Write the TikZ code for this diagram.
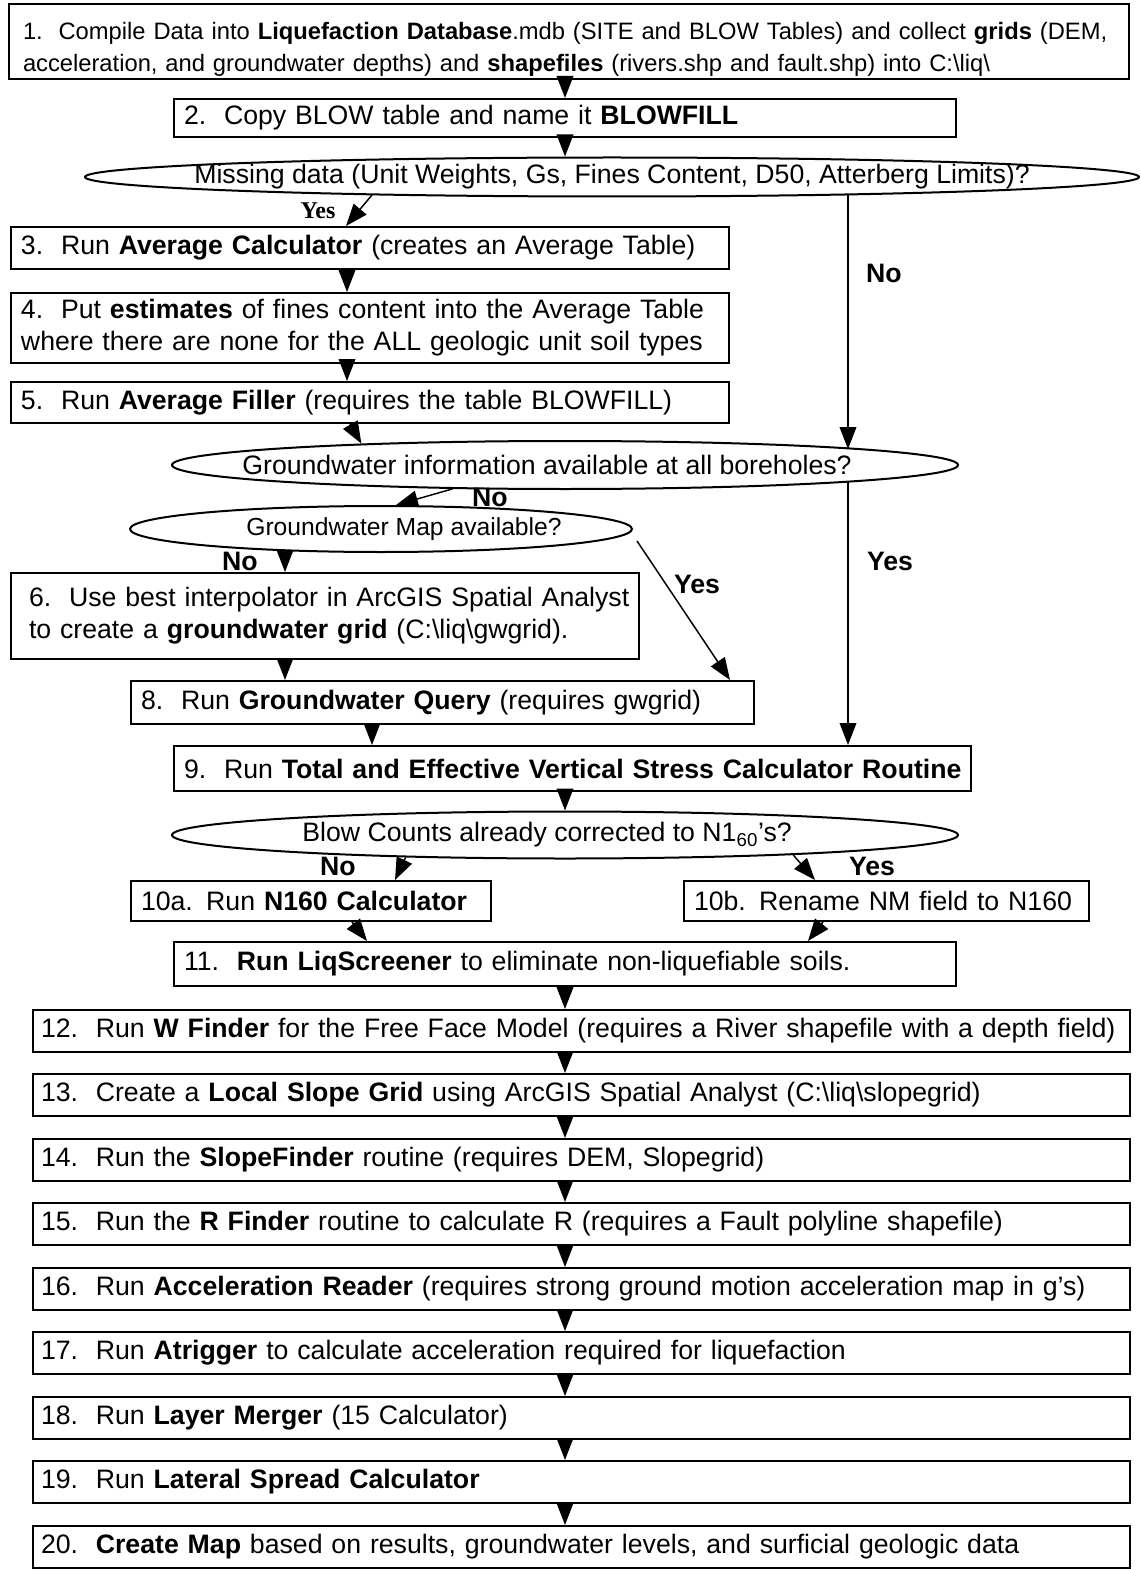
\documentclass[tikz,border=0pt]{standalone}
\usepackage{fontspec}
\setmainfont{Liberation Sans}
\newfontfamily\yesfont{Liberation Serif}
\usetikzlibrary{arrows.meta,shapes.geometric}
\newcommand\mainsize{\fontsize{20pt}{24pt}\selectfont}
\newcommand\oneline[1]{\mbox{#1}}
\begin{document}
\begin{tikzpicture}[x=0.75pt,y=-0.75pt,
  box/.style={draw, line width=1.5pt, anchor=north west, inner ysep=0pt, inner xsep=7.5pt, align=left, font=\mainsize},
  wide/.style={box, minimum width=822.75pt, minimum height=31.5pt, text width=810.75pt, inner xsep=6pt},
  ell/.style={draw, ellipse, line width=1.5pt, inner sep=0pt, font=\mainsize},
  arr/.style={line width=1.1pt, -{Triangle[length=16.5pt,width=12.5pt]}},
  lbl/.style={font=\mainsize\bfseries, inner sep=0pt}]
\fill[white] (0,0) rectangle (1140,1569);
\useasboundingbox (0,0) rectangle (1140,1569);
% x positions of connectors
\coordinate (xm) at (565,0);
\coordinate (xr) at (848,0);
\coordinate (xl) at (347,0);
\coordinate (xg) at (285,0);
\coordinate (xq) at (372,0);
\coordinate (xy1) at (346,0);
\coordinate (x5) at (350,0);
\coordinate (xy3) at (730,0);
\coordinate (xa) at (395,0);
\coordinate (xb) at (815,0);
\coordinate (xc) at (352,0);
\coordinate (xd) at (367,0);
\coordinate (xe) at (823,0);
\coordinate (xf) at (808,0);
% boxes
\node[box, minimum width=840pt, minimum height=56.25pt, text width=819pt, inner xsep=10.5pt, font=\fontsize{17.8pt}{24pt}\selectfont] (b1) at (8,3)
 {\oneline{\rule{0pt}{25pt}1.~~Compile Data into \textbf{Liquefaction Database}.mdb (SITE and BLOW Tables) and collect \textbf{grids} (DEM,}\\
 \oneline{acceleration, and groundwater depths) and \textbf{shapefiles} (rivers.shp and fault.shp) into C:\textbackslash{}liq\textbackslash{}}};
\node[box, minimum width=586.5pt, minimum height=28.5pt, text width=571.5pt] (b2) at (173,98)
 {\oneline{2.~~Copy BLOW table and name it \textbf{BLOWFILL}}};
\node[ell, minimum width=790.5pt, minimum height=29.25pt] (e1) at (612,177)
 {\makebox[0pt]{Missing data (Unit Weights, Gs, Fines Content, D50, Atterberg Limits)?}};
\node[box, minimum width=538.5pt, minimum height=31.5pt, text width=523.5pt] (b3) at (10,226)
 {\oneline{3.~~Run \textbf{Average Calculator} (creates an Average Table)}};
\node[box, minimum width=538.5pt, minimum height=52.5pt, text width=523.5pt] (b4) at (10,292)
 {\oneline{4.~~Put \textbf{estimates} of fines content into the Average Table}\\\oneline{where there are none for the ALL geologic unit soil types}};
\node[box, minimum width=538.5pt, minimum height=30.75pt, text width=523.5pt] (b5) at (10,381)
 {\oneline{5.~~Run \textbf{Average Filler} (requires the table BLOWFILL)}};
\node[ell, minimum width=589.5pt, minimum height=36pt] (e2) at (565,465)
 {\makebox[0pt]{\hspace{-27pt}Groundwater information available at all boreholes?}};
\node[ell, minimum width=376.5pt, minimum height=34.5pt, font=\fontsize{18.5pt}{22pt}\selectfont] (e3) at (381,529)
 {\makebox[0pt]{\hspace{34.5pt}Groundwater Map available?}};
\node[box, minimum width=471pt, minimum height=64.5pt, text width=444pt, inner xsep=13.5pt] (b6) at (10,572)
 {\oneline{6.~~Use best interpolator in ArcGIS Spatial Analyst}\\\oneline{to create a \textbf{groundwater grid} (C:\textbackslash{}liq\textbackslash{}gwgrid).}};
\node[box, minimum width=467.25pt, minimum height=32.25pt, text width=452.25pt] (b8) at (130,680)
 {\oneline{8.~~Run \textbf{Groundwater Query} (requires gwgrid)}};
\node[box, minimum width=597.75pt, minimum height=33.75pt, text width=582.75pt] (b9) at (173,745)
 {\oneline{9.~~Run \textbf{Total and Effective Vertical Stress Calculator Routine}}};
\node[ell, minimum width=589.5pt, minimum height=35.25pt] (e4) at (565,835)
 {\makebox[0pt]{\hspace{-27pt}Blow Counts already corrected to N1\textsubscript{60}’s?}};
\node[box, minimum width=270pt, minimum height=30pt, text width=255pt] (b10a) at (130,880)
 {\oneline{10a. Run \textbf{N160 Calculator}}};
\node[box, minimum width=303.75pt, minimum height=30pt, text width=288.75pt] (b10b) at (683,880)
 {\oneline{10b. Rename NM field to N160}};
\node[box, minimum width=586.5pt, minimum height=33pt, text width=571.5pt] (b11) at (173,941)
 {\oneline{11.~~\textbf{Run LiqScreener} to eliminate non-liquefiable soils.}};
\node[wide] (b12) at (32,1009) {\oneline{12.~~Run \textbf{W Finder} for the Free Face Model (requires a River shapefile with a depth field)}};
\node[wide] (b13) at (32,1073) {\oneline{13.~~Create a \textbf{Local Slope Grid} using ArcGIS Spatial Analyst (C:\textbackslash{}liq\textbackslash{}slopegrid)}};
\node[wide] (b14) at (32,1138) {\oneline{14.~~Run the \textbf{SlopeFinder} routine (requires DEM, Slopegrid)}};
\node[wide] (b15) at (32,1202) {\oneline{15.~~Run the \textbf{R Finder} routine to calculate R (requires a Fault polyline shapefile)}};
\node[wide] (b16) at (32,1267) {\oneline{16.~~Run \textbf{Acceleration Reader} (requires strong ground motion acceleration map in g’s)}};
\node[wide] (b17) at (32,1331) {\oneline{17.~~Run \textbf{Atrigger} to calculate acceleration required for liquefaction}};
\node[wide] (b18) at (32,1396) {\oneline{18.~~Run \textbf{Layer Merger} (15 Calculator)}};
\node[wide] (b19) at (32,1460) {\oneline{19.~~Run \textbf{Lateral Spread Calculator}}};
\node[wide] (b20) at (32,1525) {\oneline{20.~~\textbf{Create Map} based on results, groundwater levels, and surficial geologic data}};
% labels
\node[inner sep=0pt, font=\fontsize{18pt}{21pt}\selectfont\yesfont\bfseries] (y1) at (318,211) {Yes};
\node[lbl] (n1) at (884,273) {No};
\node[lbl] (n2) at (490,497) {No};
\node[lbl] (n3) at (240,561) {No};
\node[lbl] (y3) at (697,584) {Yes};
\node[lbl] (y2) at (890,561) {Yes};
\node[lbl] (n4) at (338,866) {No};
\node[lbl] (y4) at (872,866) {Yes};
% connectors
\draw[arr] (b1.south -| xm) -- (b2.north -| xm);
\draw[arr] (b2.south -| xm) -- (e1.north -| xm);
\draw[arr] ([shift={(-240,18)}]e1.center) -- (b3.north -| xy1);
\draw[arr] (b3.south -| xl) -- (b4.north -| xl);
\draw[arr] (b4.south -| xl) -- (b5.north -| xl);
\draw[arr] (b5.south -| x5) -- (e2.174);
\draw[arr] (e1.-4.2 -| xr) -- (e2.3.4 -| xr);
\draw[arr] (e2.192) -- (e3.58.7);
\draw[arr] (e3.192.5 -| xg) -- (b6.north -| xg);
\draw[arr] ([shift={(4,12)}]e3.east) -- (b8.north -| xy3);
\draw[arr] (b6.south -| xg) -- (b8.north -| xg);
\draw[arr] (e2.-3.4 -| xr) -- (b9.north -| xr);
\draw[arr] (b8.south -| xq) -- (b9.north -| xq);
\draw[arr] (b9.south -| xm) -- (e4.north -| xm);
\draw[arr] (e4.188.1) -- (b10a.north -| xa);
\draw[arr] (e4.-5.2) -- (b10b.north -| xb);
\draw[arr] (b10a.south -| xc) -- (b11.north -| xd);
\draw[arr] (b10b.south -| xe) -- (b11.north -| xf);
\draw[arr] (b11.south -| xm) -- (b12.north -| xm);
\draw[arr] (b12.south -| xm) -- (b13.north -| xm);
\draw[arr] (b13.south -| xm) -- (b14.north -| xm);
\draw[arr] (b14.south -| xm) -- (b15.north -| xm);
\draw[arr] (b15.south -| xm) -- (b16.north -| xm);
\draw[arr] (b16.south -| xm) -- (b17.north -| xm);
\draw[arr] (b17.south -| xm) -- (b18.north -| xm);
\draw[arr] (b18.south -| xm) -- (b19.north -| xm);
\draw[arr] (b19.south -| xm) -- (b20.north -| xm);
\end{tikzpicture}
\end{document}
